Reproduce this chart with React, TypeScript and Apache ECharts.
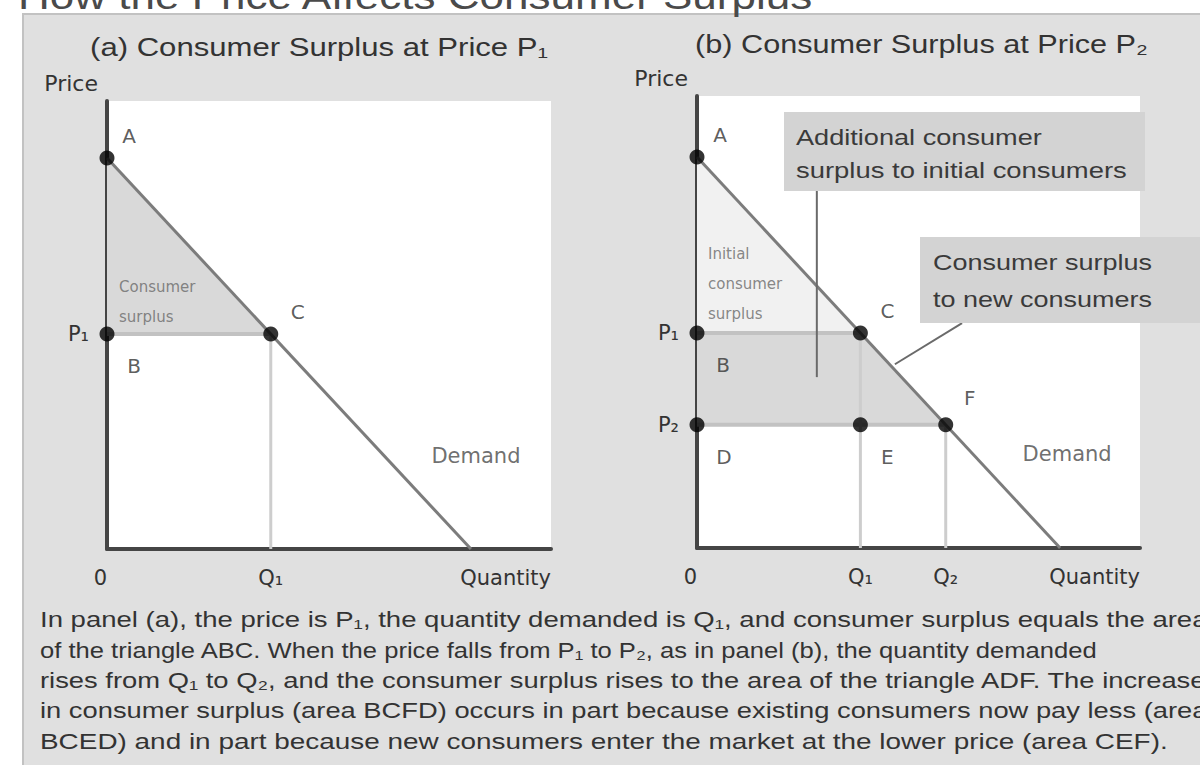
import React, { useEffect, useRef } from "react";
import * as echarts from "echarts";

// ---------------- data ----------------
const P1 = 5.5;
const Q1 = 4.5;
const P2 = 3.15;
const Q2 = 6.85;
const X_MAX = 12.2;
const Y_MAX_A = 11.46;
const Y_MAX_B = 11.56;

const demandLine = [
  [0, 10],
  [10, 0],
];

const xTicksA = [0, Q1, X_MAX];
const xTickNamesA = ["0", "Q₁", "Quantity"];
const xTicksB = [0, Q1, Q2, X_MAX];
const xTickNamesB = ["0", "Q₁", "Q₂", "Quantity"];
const yTicksA = [P1];
const yTickNamesA = ["P₁"];
const yTicksB = [P1, P2];
const yTickNamesB = ["P₁", "P₂"];

const pointsA = [
  [0, 10],
  [0, P1],
  [Q1, P1],
];
const pointsB = [
  [0, 10],
  [0, P1],
  [Q1, P1],
  [0, P2],
  [Q1, P2],
  [Q2, P2],
];

const areasA = [
  [
    [0, 10],
    [0, P1],
    [Q1, P1],
  ],
];
const areasB = [
  [
    [0, 10],
    [0, P1],
    [Q1, P1],
  ],
  [
    [0, P1],
    [Q1, P1],
    [Q2, P2],
    [0, P2],
  ],
];

const guidesHA = [[0, P1, Q1, P1]];
const guidesVA = [[Q1, P1, Q1, 0]];
const guidesHB = [
  [0, P1, Q1, P1],
  [0, P2, Q2, P2],
];
const guidesVB = [
  [Q1, P1, Q1, 0],
  [Q2, P2, Q2, 0],
];

const pointersB = [
  [3.3, 4.37, 3.3, 9.13],
  [5.45, 4.7, 7.3, 5.75],
];

const labelsA = [
  { text: "A", at: [0, 10] },
  { text: "B", at: [0, P1] },
  { text: "C", at: [Q1, P1] },
  { text: "Demand", at: [10, 0] },
  { text: "Consumer\nsurplus", at: [0, P1] },
];
const labelsB = [
  { text: "A", at: [0, 10] },
  { text: "B", at: [0, P1] },
  { text: "C", at: [Q1, P1] },
  { text: "D", at: [0, P2] },
  { text: "E", at: [Q1, P2] },
  { text: "F", at: [Q2, P2] },
  { text: "Demand", at: [10, 0] },
  { text: "Initial\nconsumer\nsurplus", at: [0, P1] },
];

const mainTitle = "How the Price Affects Consumer Surplus";
const titleA = "(a) Consumer Surplus at Price P₁";
const titleB = "(b) Consumer Surplus at Price P₂";
const box1Lines = ["Additional consumer", "surplus to initial consumers"];
const box2Lines = ["Consumer surplus", "to new consumers"];
const captionLines = [
  "In panel (a), the price is P₁, the quantity demanded is Q₁, and consumer surplus equals the area",
  "of the triangle ABC. When the price falls from P₁ to P₂, as in panel (b), the quantity demanded",
  "rises from Q₁ to Q₂, and the consumer surplus rises to the area of the triangle ADF. The increase",
  "in consumer surplus (area BCFD) occurs in part because existing consumers now pay less (area",
  "BCED) and in part because new consumers enter the market at the lower price (area CEF).",
];

// ---------------- layout / style ----------------
const FONT = "DejaVu Sans";
const TFONT = "Liberation Sans";
const CAPTION_LEFT = 40;
const captionEnds = [1208, 1098, 1208, 1208, 1168];
const captionY0 = 619.5;
const captionStep = 30.3;

const labelOffsetsA: Record<string, number[]> = {
  A: [22, -22],
  B: [27, 32],
  C: [27, -22],
  Demand: [5, -93],
  "Consumer\nsurplus": [12, -32],
};
const labelOffsetsB: Record<string, number[]> = {
  A: [23, -22],
  B: [26, 32],
  C: [27, -22],
  D: [27, 32],
  E: [27, 32],
  F: [24, -27],
  Demand: [7, -94],
  "Initial\nconsumer\nsurplus": [11, -49],
};

let measureCtx: CanvasRenderingContext2D | null = null;
function measure(text: string, size: number, family: string) {
  if (!measureCtx) measureCtx = document.createElement("canvas").getContext("2d");
  if (!measureCtx) return text.length * size * 0.5;
  measureCtx.font = `${size}px "${family}"`;
  return measureCtx.measureText(text).width;
}

function fitText(
  text: string,
  x: number,
  y: number,
  width: number,
  size: number,
  align: "left" | "center",
  fill: string,
  z = 23
) {
  const w = measure(text, size, TFONT);
  return {
    type: "text",
    z,
    x,
    y,
    scaleX: w > 0 ? width / w : 1,
    style: {
      text,
      fontFamily: TFONT,
      fontSize: size,
      fill,
      align,
      verticalAlign: "middle",
    },
  };
}

function xAxisCfg(gi: number, ticks: number[], names: string[]) {
  return {
    type: "value",
    gridIndex: gi,
    min: 0,
    max: X_MAX,
    axisLine: { show: true, onZero: false, lineStyle: { color: "#454545", width: 4 } },
    axisTick: { show: false },
    splitLine: { show: false },
    axisLabel: {
      customValues: ticks,
      formatter: (v: number) => names[ticks.indexOf(v)] ?? "",
      margin: 18,
      fontFamily: FONT,
      fontSize: 21,
      color: "#333",
      alignMinLabel: "right",
      alignMaxLabel: "right",
    },
  };
}

function yAxisCfg(gi: number, max: number, ticks: number[], names: string[]) {
  return {
    type: "value",
    gridIndex: gi,
    min: 0,
    max,
    axisLine: { show: true, onZero: false, lineStyle: { color: "#454545", width: 4 } },
    axisTick: { show: false },
    splitLine: { show: false },
    axisLabel: {
      customValues: ticks,
      formatter: (v: number) => names[ticks.indexOf(v)] ?? "",
      margin: 18,
      fontFamily: FONT,
      fontSize: 21,
      color: "#333",
    },
    name: "Price",
    nameLocation: "end",
    nameGap: 18,
    nameTextStyle: {
      fontFamily: FONT,
      fontSize: 22,
      color: "#333",
      align: "right",
      verticalAlign: "middle",
      padding: [0, 9, 0, 0],
    },
  };
}

function polySeries(name: string, gi: number, polys: number[][][], fills: string[]) {
  return {
    type: "custom",
    name,
    xAxisIndex: gi,
    yAxisIndex: gi,
    z: 1,
    silent: true,
    clip: false,
    data: polys.map((p) => [p[0][0], p[0][1]]),
    renderItem: (params: any, api: any) => {
      const poly = polys[params.dataIndex];
      return {
        type: "polygon",
        shape: { points: poly.map((pt) => api.coord(pt)) },
        style: { fill: fills[params.dataIndex] },
      };
    },
  };
}

function segSeries(name: string, gi: number, segs: number[][], color: string, width: number, z: number) {
  return {
    type: "custom",
    name,
    xAxisIndex: gi,
    yAxisIndex: gi,
    z,
    silent: true,
    clip: false,
    data: segs,
    encode: { x: [0, 2], y: [1, 3] },
    renderItem: (params: any, api: any) => {
      const a = api.coord([api.value(0), api.value(1)]);
      const b = api.coord([api.value(2), api.value(3)]);
      return {
        type: "line",
        shape: { x1: a[0], y1: a[1], x2: b[0], y2: b[1] },
        style: { stroke: color, lineWidth: width },
      };
    },
  };
}

function demandSeries(gi: number) {
  return {
    type: "line",
    name: "Demand",
    xAxisIndex: gi,
    yAxisIndex: gi,
    z: 3,
    data: demandLine,
    symbol: "none",
    lineStyle: { color: "#7c7c7c", width: 3 },
    silent: true,
  };
}

function pointSeries(gi: number, pts: number[][]) {
  return {
    type: "scatter",
    xAxisIndex: gi,
    yAxisIndex: gi,
    z: 5,
    data: pts,
    symbolSize: 15,
    itemStyle: { color: "#000" },
    silent: true,
  };
}

function labelSeries(gi: number, labels: { text: string; at: number[] }[], offsets: Record<string, number[]>) {
  return {
    type: "scatter",
    xAxisIndex: gi,
    yAxisIndex: gi,
    z: 6,
    symbolSize: 1,
    itemStyle: { color: "rgba(0,0,0,0)" },
    silent: true,
    data: labels.map((l) => {
      const multi = l.text.includes("\n");
      return {
        value: l.at,
        label: {
          show: true,
          position: "inside",
          formatter: l.text,
          offset: offsets[l.text],
          align: multi ? "left" : "center",
          verticalAlign: "middle",
          fontFamily: FONT,
          fontSize: multi ? 15 : l.text === "Demand" ? 21 : 20,
          lineHeight: multi ? 30 : undefined,
          color: multi ? "#6a6a6a" : l.text === "Demand" ? "#4a4a4a" : "#333",
        },
      };
    }),
  };
}

export default function App() {
  const ref = useRef<HTMLDivElement>(null);
  useEffect(() => {
    if (!ref.current) return;
    const chart = echarts.init(ref.current, undefined, { renderer: "svg" });

    const captionEls = captionLines.map((line, i) =>
      fitText(line, CAPTION_LEFT, captionY0 + i * captionStep, captionEnds[i] - CAPTION_LEFT, 22, "left", "#333", 22)
    );

    const option: any = {
      animation: false,
      backgroundColor: "#e0e0e0",
      grid: [
        { left: 107, top: 101, width: 444, height: 448, show: true, backgroundColor: "#ffffff", borderWidth: 0 },
        { left: 697, top: 96, width: 443, height: 452, show: true, backgroundColor: "#ffffff", borderWidth: 0 },
      ],
      xAxis: [xAxisCfg(0, xTicksA, xTickNamesA), xAxisCfg(1, xTicksB, xTickNamesB)],
      yAxis: [yAxisCfg(0, Y_MAX_A, yTicksA, yTickNamesA), yAxisCfg(1, Y_MAX_B, yTicksB, yTickNamesB)],
      series: [
        polySeries("Consumer surplus", 0, areasA, ["#d9d9d9"]),
        segSeries("Price P1 guide", 0, guidesHA, "#c2c2c2", 4, 2),
        segSeries("Quantity Q1 guide", 0, guidesVA, "#cdcdcd", 3, 2),
        demandSeries(0),
        pointSeries(0, pointsA),
        labelSeries(0, labelsA, labelOffsetsA),

        polySeries("Consumer surplus areas", 1, areasB, ["#f1f1f1", "#d9d9d9"]),
        segSeries("Price guides", 1, guidesHB, "#c2c2c2", 4, 2),
        segSeries("Quantity guides", 1, guidesVB, "#cdcdcd", 3, 2),
        demandSeries(1),
        segSeries("Pointers", 1, pointersB, "#6a6a6a", 2, 4),
        pointSeries(1, pointsB),
        labelSeries(1, labelsB, labelOffsetsB),
      ],
      graphic: {
        elements: [
          { type: "rect", z: 20, shape: { x: 0, y: 0, width: 1200, height: 13 }, style: { fill: "#ffffff" } },
          { type: "rect", z: 20, shape: { x: 0, y: 0, width: 22, height: 765 }, style: { fill: "#ffffff" } },
          {
            type: "polyline",
            z: 21,
            shape: { points: [[23, 765], [23, 14], [1200, 14]] },
            style: { stroke: "#c2c2c2", lineWidth: 2, fill: null },
          },
          fitText(mainTitle, 18, -3, 797, 36, "left", "#4a4a4a", 22),
          fitText(titleA, 319, 47, 458, 25, "center", "#333", 22),
          fitText(titleB, 921.5, 45, 453, 25, "center", "#333", 22),
          { type: "rect", z: 22, shape: { x: 784, y: 112, width: 361, height: 79 }, style: { fill: "#d3d3d3" } },
          fitText(box1Lines[0], 796, 137, 246, 22, "left", "#3a3a3a"),
          fitText(box1Lines[1], 796, 170, 331, 22, "left", "#3a3a3a"),
          { type: "rect", z: 22, shape: { x: 920, y: 237, width: 290, height: 86 }, style: { fill: "#d3d3d3" } },
          fitText(box2Lines[0], 933, 262, 219, 22, "left", "#3a3a3a"),
          fitText(box2Lines[1], 933, 299, 219, 22, "left", "#3a3a3a"),
          ...captionEls,
        ],
      },
    };
    chart.setOption(option);
    return () => chart.dispose();
  }, []);
  return (
    <div
      ref={ref}
      style={{ position: "absolute", left: 0, top: 0, width: 1200, height: 765 }}
    />
  );
}
